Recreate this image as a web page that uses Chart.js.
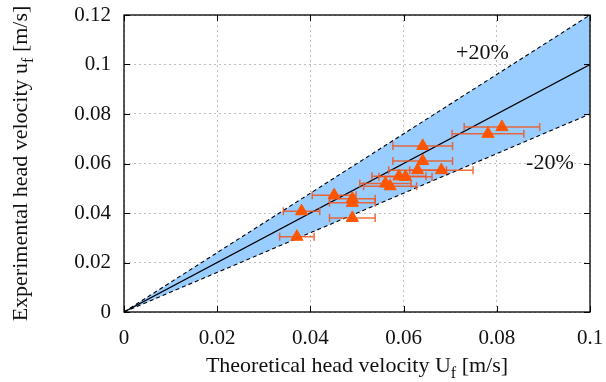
<!DOCTYPE html>
<html lang="en">
<head>
<meta charset="UTF-8">
<title>Head velocity: theory vs experiment</title>
<script src="https://cdn.jsdelivr.net/npm/chart.js@4.4.0/dist/chart.umd.min.js"></script>
<style>
  html, body { margin: 0; padding: 0; background: #fff; }
</style>
</head>
<body>
<canvas id="myChart" width="606" height="382"></canvas>
<script>
// measured points
var theoretical    = [0.0811, 0.0781, 0.0641, 0.0641, 0.0630, 0.0681, 0.0590, 0.0604, 0.0561, 0.0571, 0.0451, 0.0490, 0.0490, 0.0381, 0.0490, 0.0371];
var experimental   = [0.0747, 0.0720, 0.0671, 0.0610, 0.0573, 0.0573, 0.0548, 0.0546, 0.0519, 0.0508, 0.0472, 0.0458, 0.0441, 0.0407, 0.0380, 0.0304];
var theoreticalErr = [0.0081, 0.0077, 0.0064, 0.0064, 0.0062, 0.0068, 0.0058, 0.0057, 0.0055, 0.0057, 0.0047, 0.0049, 0.0049, 0.0039, 0.0049, 0.0037];

// reference lines: y = x and the +/-20% band
var lineX  = [0, 0.1];
var idealY = [0, 0.1];
var upperY = [0, 0.12];
var lowerY = [0, 0.08];

var xTicks = [0, 0.02, 0.04, 0.06, 0.08, 0.1];
var xTickLabels = ['0', '0.02', '0.04', '0.06', '0.08', '0.1'];
var yTicks = [0, 0.02, 0.04, 0.06, 0.08, 0.1, 0.12];
var yTickLabels = ['0', '0.02', '0.04', '0.06', '0.08', '0.1', '0.12'];

var bandLabels = [
  { text: '+20%', x: 0.0769, y: 0.1044 },
  { text: '-20%', x: 0.0914, y: 0.0601 }
];

var FONT = '"Liberation Serif", "DejaVu Serif", serif';

function pts(xs, ys) {
  return xs.map(function (x, i) { return { x: x, y: ys[i] }; });
}

// horizontal error bars, drawn just under the triangles
var errorBars = {
  id: 'errorBars',
  beforeDatasetDraw: function (chart, args) {
    if (args.index !== 0) return;
    var ctx = chart.ctx, xs = chart.scales.x, ys = chart.scales.y;
    ctx.save();
    ctx.strokeStyle = 'rgba(238, 85, 30, 0.85)';
    ctx.lineWidth = 1.5;
    for (var i = 0; i < theoretical.length; i++) {
      var x0 = xs.getPixelForValue(theoretical[i] - theoreticalErr[i]);
      var x1 = xs.getPixelForValue(theoretical[i] + theoreticalErr[i]);
      var y = ys.getPixelForValue(experimental[i]);
      ctx.beginPath();
      ctx.moveTo(x0, y); ctx.lineTo(x1, y);
      ctx.moveTo(x0, y - 4); ctx.lineTo(x0, y + 4);
      ctx.moveTo(x1, y - 4); ctx.lineTo(x1, y + 4);
      ctx.stroke();
    }
    ctx.restore();
  }
};

function drawRich(ctx, parts, size) {
  var total = 0;
  parts.forEach(function (p) {
    ctx.font = (p.sub ? Math.round(size * 0.72) : size) + 'px ' + FONT;
    p.w = ctx.measureText(p.t).width;
    total += p.w;
  });
  var x = -total / 2;
  parts.forEach(function (p) {
    ctx.font = (p.sub ? Math.round(size * 0.72) : size) + 'px ' + FONT;
    ctx.fillText(p.t, x, p.sub ? size * 0.28 : 0);
    x += p.w;
  });
}

// frame, mirrored inner ticks, axis titles and band labels
var frame = {
  id: 'frame',
  afterDraw: function (chart) {
    var ctx = chart.ctx, a = chart.chartArea, xs = chart.scales.x, ys = chart.scales.y;
    ctx.save();
    ctx.strokeStyle = '#000';
    ctx.lineWidth = 1;
    ctx.beginPath();
    xTicks.forEach(function (v) {
      var px = Math.round(xs.getPixelForValue(v)) + 0.5;
      ctx.moveTo(px, a.bottom); ctx.lineTo(px, a.bottom - 6);
      ctx.moveTo(px, a.top); ctx.lineTo(px, a.top + 6);
    });
    yTicks.forEach(function (v) {
      var py = Math.round(ys.getPixelForValue(v)) + 0.5;
      ctx.moveTo(a.left, py); ctx.lineTo(a.left + 6, py);
      ctx.moveTo(a.right, py); ctx.lineTo(a.right - 6, py);
    });
    ctx.stroke();
    ctx.lineWidth = 1.3;
    ctx.strokeRect(a.left, a.top, a.right - a.left, a.bottom - a.top);

    ctx.fillStyle = '#111';
    ctx.textBaseline = 'alphabetic';
    ctx.textAlign = 'left';
    ctx.save();
    ctx.translate((a.left + a.right) / 2, 372);
    drawRich(ctx, [{ t: 'Theoretical head velocity U' }, { t: 'f', sub: true }, { t: ' [m/s]' }], 22);
    ctx.restore();
    ctx.save();
    ctx.translate(27, (a.top + a.bottom) / 2);
    ctx.rotate(-Math.PI / 2);
    drawRich(ctx, [{ t: 'Experimental head velocity u' }, { t: 'f', sub: true }, { t: ' [m/s]' }], 22);
    ctx.restore();

    ctx.font = '22px ' + FONT;
    ctx.textAlign = 'center';
    ctx.textBaseline = 'middle';
    bandLabels.forEach(function (l) {
      ctx.fillText(l.text, xs.getPixelForValue(l.x), ys.getPixelForValue(l.y));
    });
    ctx.restore();
  }
};

var gridOpts = { color: '#c0c0c0', lineWidth: 1, drawTicks: false };

var myChart = new Chart(document.getElementById('myChart').getContext('2d'), {
  type: 'scatter',
  data: {
    datasets: [
      {
        label: 'Measured',
        data: pts(theoretical, experimental),
        pointStyle: 'triangle',
        pointRadius: 7,
        backgroundColor: 'rgb(255, 85, 0)',
        borderColor: 'rgb(255, 85, 0)',
        borderWidth: 1
      },
      {
        label: 'Ideal',
        type: 'line',
        data: pts(lineX, idealY),
        borderColor: '#000',
        borderWidth: 1.2,
        pointRadius: 0,
        fill: false
      },
      {
        label: '+20%',
        type: 'line',
        data: pts(lineX, upperY),
        borderColor: '#000',
        borderWidth: 1.1,
        borderDash: [4, 3],
        pointRadius: 0,
        backgroundColor: 'rgb(153, 204, 255)',
        fill: 3
      },
      {
        label: '-20%',
        type: 'line',
        data: pts(lineX, lowerY),
        borderColor: '#000',
        borderWidth: 1.1,
        borderDash: [4, 3],
        pointRadius: 0,
        fill: false
      }
    ]
  },
  options: {
    responsive: false,
    animation: false,
    devicePixelRatio: 1,
    layout: { padding: { top: 15, right: 16, left: 0, bottom: 0 } },
    plugins: {
      legend: { display: false },
      tooltip: { enabled: false },
      filler: { drawTime: 'beforeDatasetsDraw' }
    },
    scales: {
      x: {
        type: 'linear', min: 0, max: 0.1,
        afterBuildTicks: function (s) { s.ticks = xTicks.map(function (v) { return { value: v }; }); },
        afterFit: function (s) { s.height = 70; s.paddingLeft = 0; s.paddingRight = 0; },
        grid: Object.assign({ borderDash: [2, 3] }, gridOpts),
        border: { display: false, dash: [2, 3] },
        ticks: {
          padding: 14, maxRotation: 0, color: '#111',
          font: { family: FONT, size: 21 },
          callback: function (v, i) { return xTickLabels[i]; }
        }
      },
      y: {
        type: 'linear', min: 0, max: 0.12,
        afterBuildTicks: function (s) { s.ticks = yTicks.map(function (v) { return { value: v }; }); },
        afterFit: function (s) { s.width = 124; s.paddingTop = 0; s.paddingBottom = 0; },
        grid: gridOpts,
        border: { display: false, dash: [2, 3] },
        ticks: {
          padding: 13, color: '#111',
          font: { family: FONT, size: 21 },
          callback: function (v, i) { return yTickLabels[i]; }
        }
      }
    }
  },
  plugins: [errorBars, frame]
});
</script>
</body>
</html>
